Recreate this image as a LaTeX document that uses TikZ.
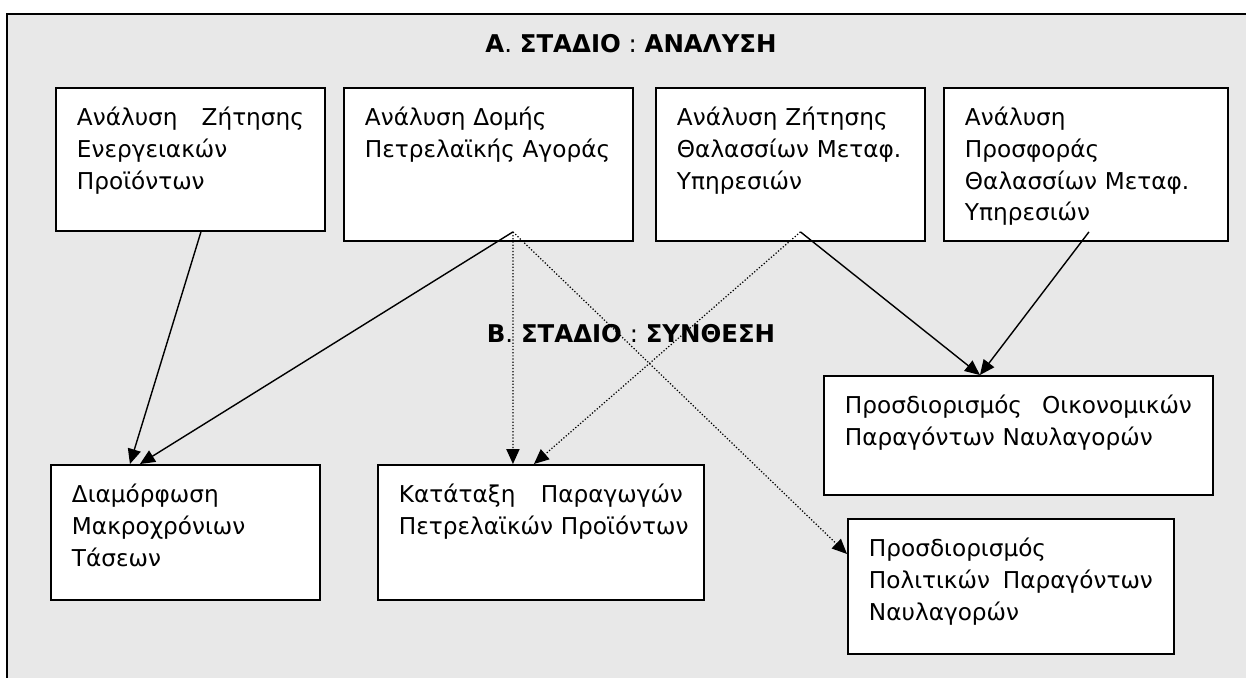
\documentclass[tikz,border=0pt]{standalone}
\usepackage{fontspec}
\setmainfont{DejaVu Sans}
\usepackage{tikz}
\usetikzlibrary{shapes,arrows.meta,positioning}

\begin{document}
\begin{tikzpicture}[
    x=0.02cm, y=-0.02cm,
    block/.style={rectangle, draw=black, line width=1.1pt, fill=white, anchor=north west, inner xsep=0.42cm, inner ysep=0pt, text height=0.76cm, align=left, font=\fontsize{13.2}{18}\selectfont},
    stage/.style={anchor=base, inner sep=0pt, font=\fontsize{13.9}{16}\selectfont},
    arrow/.style={-{Triangle[length=8.5pt,width=7.5pt]}, line width=0.8pt, draw=black},
    dotarrow/.style={arrow, line width=0.7pt, dash pattern=on 0.7pt off 1.1pt}
]
\useasboundingbox (0,0) rectangle (1246,677);
\clip (0,0) rectangle (1246,677);

% Frame
\draw [line width=1.1pt, fill=gray!18] (7,14) rectangle (1260,690);

% Nodes
\node [stage] (analysis) at (631,52) {\textbf{Α}.\ \textbf{ΣΤΑΔΙΟ} : \textbf{ΑΝΑΛΥΣΗ}};
\node [block, text width=4.54cm, text depth=2.1cm] (demand) at (55,87) {Ανάλυση\hfill Ζήτησης\\Ενεργειακών\\Προϊόντων};
\node [block, text width=4.94cm, text depth=2.3cm] (market) at (343,87) {Ανάλυση Δομής\\Πετρελαϊκής Αγοράς};
\node [block, text width=4.54cm, text depth=2.3cm] (seademand) at (655,87) {Ανάλυση Ζήτησης\\Θαλασσίων Μεταφ.\\Υπηρεσιών};
\node [block, text width=4.84cm, text depth=2.3cm] (seasupply) at (943,87) {Ανάλυση\\Προσφοράς\\Θαλασσίων Μεταφ.\\Υπηρεσιών};

\node [stage] (synthesis) at (631,342) {\textbf{Β}.\ \textbf{ΣΤΑΔΙΟ} : \textbf{ΣΥΝΘΕΣΗ}};
\node [block, text width=4.54cm, text depth=1.94cm] (trends) at (50,464) {Διαμόρφωση\\Μακροχρόνιων\\Τάσεων};
\node [block, text width=5.68cm, text depth=1.94cm] (ranking) at (377,464) {Κατάταξη\hfill Παραγωγών\\\mbox{Πετρελαϊκών Προϊόντων}};
\node [block, text width=6.94cm, text depth=1.62cm] (economic) at (823,375) {Προσδιορισμός\hfill Οικονομικών\\Παραγόντων Ναυλαγορών};
\node [block, text width=5.68cm, text depth=1.94cm] (political) at (847,518) {Προσδιορισμός\\Πολιτικών\hfill Παραγόντων\\Ναυλαγορών};

% Start points inside the upper boxes
\coordinate (market out) at ([shift={(24.5,-10)}]market.south);
\coordinate (seademand out) at ([shift={(10,-10)}]seademand.south);
\coordinate (seasupply out) at ([shift={(3,-10)}]seasupply.south);

% Arrows
\draw [arrow] ([shift={(10.5,0)}]demand.south) -- ([shift={(-55.5,0)}]trends.north);
\draw [arrow] (market out) -- ([shift={(-45.5,0)}]trends.north);
\draw [dotarrow] (market out) -- ([shift={(-28,0)}]ranking.north);
\draw [dotarrow] (market out) -- ([shift={(0,-32.5)}]political.west);
\draw [dotarrow] (seademand out) -- ([shift={(-7,0)}]ranking.north);
\draw [arrow] (seademand out) -- ([shift={(-38.5,0)}]economic.north);
\draw [arrow] (seasupply out) -- ([shift={(-38.5,0)}]economic.north);

\end{tikzpicture}
\end{document}
